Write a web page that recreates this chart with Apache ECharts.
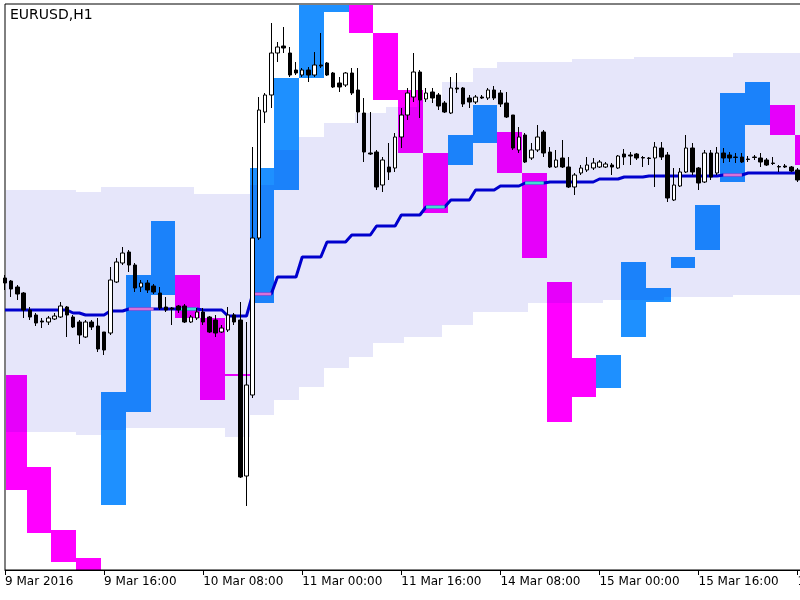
<!DOCTYPE html>
<html><head><meta charset="utf-8">
<script src="https://cdn.jsdelivr.net/npm/echarts@6/dist/echarts.min.js"></script>
<style>html,body{margin:0;padding:0;background:#fff}#c{width:800px;height:600px}</style>
</head><body><div id="c"></div>
<script>
const days = ['9 Mar', '10 Mar', '11 Mar', '14 Mar', '15 Mar', '16 Mar'];
const tickLabels = ['9 Mar 2016', '9 Mar 16:00', '10 Mar 08:00', '11 Mar 00:00', '11 Mar 16:00',
  '14 Mar 08:00', '15 Mar 00:00', '15 Mar 16:00', '16 Mar 08:00'];

const opens = [
  1.1022,1.1019,1.1013,1.1007,1.0990,1.0985,1.0979,1.0978,1.0981,1.0983,
  1.0993,1.0983,1.0978,1.0963,1.0978,1.0974,1.0968,1.0967,1.1018,1.1037,
  1.1048,1.1035,1.1013,1.1017,1.1014,1.1007,1.0993,1.0992,1.0994,1.0994,
  1.0978,1.0982,1.0988,1.0983,1.0980,1.0968,1.0970,1.0985,1.0980,1.0824,
  1.0905,1.1062,1.1188,1.1205,1.1247,1.1254,1.1247,1.1230,1.1225,1.1230,
  1.1225,1.1235,1.1237,1.1227,1.1217,1.1215,1.1227,1.1210,1.1187,1.1147,
  1.1148,1.1115,1.1133,1.1132,1.1163,1.1185,1.1203,1.1228,1.1201,1.1208,
  1.1205,1.1197,1.1187,1.1212,1.1212,1.1202,1.1198,1.1203,1.1202,1.1210,
  1.1207,1.1197,1.1185,1.1150,1.1165,1.1142,1.1150,1.1168,1.1148,1.1133,
  1.1142,1.1133,1.1113,1.1127,1.1130,1.1132,1.1133,1.1133,1.1135,1.1132,
  1.1146,1.1145,1.1146,1.11425,1.1142,1.1142,1.1152,1.1145,1.1100,1.1114,
  1.1128,1.1152,1.1132,1.1118,1.1147,1.1127,1.1147,1.1145,1.1143,1.1143,
  1.1141,1.1143,1.1142,1.1140,1.1137,1.11335,1.1134,1.1133,1.1130
];
const closes = [
  1.1017,1.1011,1.1006,1.0990,1.0983,1.0977,1.0978,1.0982,1.0984,1.0994,
  1.0985,1.0973,1.0965,1.0978,1.0973,1.0951,1.0950,1.1020,1.1038,1.1047,
  1.1035,1.1012,1.1017,1.1010,1.1008,1.0992,1.0990,1.0991,1.0990,1.0978,
  1.0983,1.0988,1.0978,1.0968,1.0967,1.0972,1.0985,1.0978,1.0823,1.0915,
  1.1062,1.1190,1.1205,1.1247,1.1253,1.1252,1.1225,1.1227,1.1230,1.1225,
  1.1235,1.1234,1.1225,1.1213,1.1213,1.1227,1.1207,1.1188,1.1148,1.1146,
  1.1113,1.1140,1.1128,1.1163,1.1185,1.1207,1.1228,1.1200,1.1207,1.1202,
  1.1194,1.1188,1.1212,1.1211,1.1196,1.1198,1.1203,1.1202,1.1210,1.1202,
  1.1196,1.1183,1.1152,1.1163,1.1138,1.1150,1.1163,1.1147,1.1133,1.1140,
  1.1133,1.1113,1.1125,1.1132,1.1135,1.1137,1.1138,1.1136,1.1133,1.1144,
  1.1143,1.1144,1.1142,1.1142,1.11415,1.1153,1.1143,1.1102,1.1115,1.1128,
  1.1152,1.1128,1.1117,1.1147,1.1123,1.1147,1.1142,1.1142,1.11425,1.1138,
  1.11405,1.11425,1.1138,1.1135,1.11365,1.1133,1.1133,1.1129,1.1120
];
const lows = [
  1.1010,1.1003,1.1000,1.0982,1.0980,1.0974,1.0972,1.0975,1.0980,1.0982,
  1.0963,1.0972,1.0956,1.0962,1.0970,1.0948,1.0945,1.0965,1.1017,1.1035,
  1.1028,1.1008,1.1008,1.1007,1.1006,1.0990,1.0988,1.0975,1.0987,1.0977,
  1.0977,1.0980,1.0975,1.0967,1.0963,1.0967,1.0968,1.0975,1.0822,1.0794,
  1.0902,1.1060,1.1177,1.1192,1.1238,1.1247,1.1223,1.1225,1.1223,1.1218,
  1.1223,1.1232,1.1224,1.1212,1.1208,1.1213,1.1205,1.1177,1.1138,1.1145,
  1.1110,1.1108,1.1120,1.1128,1.1152,1.1180,1.1198,1.1182,1.1198,1.1197,
  1.1190,1.1187,1.1186,1.1207,1.1193,1.1192,1.1196,1.1201,1.1200,1.1200,
  1.1193,1.1182,1.1150,1.1147,1.1137,1.1140,1.1148,1.1143,1.1132,1.1132,
  1.1132,1.1112,1.1105,1.1125,1.1128,1.1130,1.1132,1.1132,1.1125,1.1131,
  1.1135,1.1135,1.1140,1.1133,1.1135,1.1113,1.1140,1.1098,1.1099,1.1113,
  1.1127,1.1125,1.1110,1.1117,1.1120,1.1125,1.1137,1.1138,1.1137,1.1137,
  1.1138,1.1140,1.1133,1.1134,1.1135,1.1128,1.1132,1.1128,1.1118
];
const highs = [
  1.1025,1.1020,1.1015,1.1008,1.0993,1.0987,1.0982,1.0984,1.0987,1.0998,
  1.0994,1.0985,1.0980,1.0980,1.0980,1.0982,1.0968,1.1033,1.1042,1.1053,
  1.1050,1.1037,1.1020,1.1020,1.1016,1.1013,1.1003,1.0993,1.0995,1.0996,
  1.0985,1.0992,1.0992,1.0984,1.0985,1.0975,1.0993,1.0987,1.0998,1.0978,
  1.1153,1.1203,1.1207,1.1277,1.1258,1.1273,1.1253,1.1238,1.1232,1.1233,
  1.1248,1.1267,1.1238,1.1228,1.1223,1.1228,1.1232,1.1232,1.1202,1.1188,
  1.1150,1.1143,1.1157,1.1167,1.1192,1.1212,1.1247,1.1230,1.1212,1.1212,
  1.1207,1.1199,1.1223,1.1227,1.1213,1.1205,1.1205,1.1205,1.1212,1.1214,
  1.1210,1.1208,1.1185,1.1173,1.1167,1.1157,1.1175,1.1170,1.1153,1.1150,
  1.1160,1.1143,1.1127,1.1135,1.1143,1.1142,1.1140,1.1138,1.1137,1.1145,
  1.1151,1.1148,1.1147,1.1144,1.1143,1.1158,1.1158,1.1148,1.1132,1.1132,
  1.1165,1.1157,1.1133,1.1150,1.1150,1.1153,1.1152,1.1148,1.1147,1.1147,
  1.1144,1.1145,1.1147,1.1142,1.1143,1.1135,1.1136,1.1134,1.1132
];

const midline = [
  1.0990,1.0990,1.0990,1.0990,1.0990,1.0990,1.0990,1.0990,1.0990,1.0990,
  1.0990,1.0987,1.0987,1.0985,1.0985,1.0985,1.0985,1.0989,1.0989,1.0989,
  1.0991,1.0991,1.0991,1.0991,1.0991,1.0991,1.0991,1.0991,1.0991,1.0991,
  1.0991,1.0991,1.0990,1.0990,1.0990,1.0990,1.0984,1.0984,1.0984,1.0984,
  1.1006,1.1006,1.1006,1.1006,1.1023,1.1023,1.1023,1.1023,1.1043,1.1043,
  1.1043,1.1043,1.1058,1.1058,1.1058,1.1058,1.1065,1.1065,1.1065,1.1065,
  1.1074,1.1074,1.1074,1.1074,1.1085,1.1085,1.1085,1.1085,1.1093,1.1093,
  1.1093,1.1093,1.1100,1.1100,1.1100,1.1100,1.1110,1.1110,1.1110,1.1110,
  1.1114,1.1114,1.1114,1.1114,1.1117,1.1117,1.1117,1.1117,1.1118,1.1118,
  1.1118,1.1118,1.1118,1.1118,1.1118,1.1118,1.1121,1.1121,1.1121,1.1121,
  1.1123,1.1123,1.1123,1.1123,1.1124,1.1124,1.1124,1.1124,1.1124,1.1124,
  1.1124,1.1124,1.1124,1.1124,1.1124,1.1124,1.1125,1.1125,1.1125,1.1125,
  1.1127,1.1127,1.1127,1.1127,1.1127,1.1127,1.1127,1.1127,1.1127
];
// 0 = normal, 1 = pink highlight, 2 = cyan highlight
const midState = [
  0,0,0,0,0,0,0,0,0,0, 0,0,0,0,0,0,0,0,0,0,
  1,1,1,1,1,0,0,0,2,2, 2,2,0,0,0,0,0,0,0,0,
  1,1,1,1,0,0,0,0,0,0, 0,0,0,0,0,0,0,0,0,0,
  0,0,0,0,0,0,0,0,2,2, 2,2,0,0,0,0,0,0,0,0,
  0,0,0,0,2,2,2,2,0,0, 0,0,0,0,0,0,0,0,0,0,
  0,0,0,0,0,0,0,0,0,0, 0,0,0,0,0,0,1,1,1,1,
  0,0,0,0,0,0,0,0,0
];

const envUpper = [
  1.1110,1.1110,1.1110,1.1110,1.1110,1.1110,1.1110,1.1110,1.1110,1.1110,
  1.1110,1.1110,1.1108,1.1108,1.1108,1.1108,1.1113,1.1113,1.1113,1.1113,
  1.1113,1.1113,1.1113,1.1113,1.1113,1.1113,1.1113,1.1113,1.1113,1.1113,
  1.1113,1.1106,1.1106,1.1106,1.1106,1.1106,1.1106,1.1106,1.1106,1.1106,
  1.1115,1.1115,1.1115,1.1115,1.1150,1.1150,1.1150,1.1150,1.1163,1.1163,
  1.1163,1.1163,1.1177,1.1177,1.1177,1.1177,1.1177,1.1187,1.1187,1.1187,
  1.1187,1.1187,1.1193,1.1193,1.1193,1.1193,1.1193,1.1200,1.1200,1.1200,
  1.1200,1.1218,1.1218,1.1218,1.1218,1.1218,1.1232,1.1232,1.1232,1.1232,
  1.1238,1.1238,1.1238,1.1238,1.1238,1.1238,1.1238,1.1238,1.1238,1.1238,
  1.1238,1.1238,1.1241,1.1241,1.1241,1.1241,1.1241,1.1241,1.1241,1.1241,
  1.1241,1.1241,1.1243,1.1243,1.1243,1.1243,1.1243,1.1243,1.1243,1.1243,
  1.1243,1.1243,1.1243,1.1243,1.1243,1.1243,1.1243,1.1243,1.1247,1.1247,
  1.1247,1.1247,1.1247,1.1247,1.1247,1.1247,1.1247,1.1247,1.1247
];
const envLower = [
  1.0868,1.0868,1.0868,1.0868,1.0868,1.0868,1.0868,1.0868,1.0868,1.0868,
  1.0868,1.0868,1.0865,1.0865,1.0865,1.0865,1.0870,1.0870,1.0870,1.0870,
  1.0872,1.0872,1.0872,1.0872,1.0872,1.0872,1.0872,1.0872,1.0872,1.0872,
  1.0872,1.0872,1.0872,1.0872,1.0872,1.0872,1.0863,1.0863,1.0863,1.0863,
  1.0885,1.0885,1.0885,1.0885,1.0900,1.0900,1.0900,1.0900,1.0913,1.0913,
  1.0913,1.0913,1.0932,1.0932,1.0932,1.0932,1.0943,1.0943,1.0943,1.0943,
  1.0957,1.0957,1.0957,1.0957,1.0957,1.0963,1.0963,1.0963,1.0963,1.0963,
  1.0963,1.0975,1.0975,1.0975,1.0975,1.0975,1.0988,1.0988,1.0988,1.0988,
  1.0988,1.0988,1.0988,1.0988,1.0988,1.0997,1.0997,1.0997,1.0997,1.0997,
  1.0997,1.0997,1.0997,1.0997,1.0997,1.0997,1.0997,1.1000,1.1000,1.1000,
  1.1000,1.1000,1.1000,1.1000,1.1000,1.1000,1.1000,1.1003,1.1003,1.1003,
  1.1003,1.1003,1.1003,1.1003,1.1003,1.1003,1.1003,1.1003,1.1005,1.1005,
  1.1005,1.1005,1.1005,1.1005,1.1005,1.1005,1.1005,1.1005,1.1005
];

const trendHigh = [
  1.0925,1.0925,1.0925,1.0925, 1.0833,1.0833,1.0833,1.0833, 1.0770,1.0770,1.0770,1.0770, 1.0742,1.0742,1.0742,1.0742,
  1.0908,1.0908,1.0908,1.0908, 1.1025,1.1025,1.1025,1.1025, 1.1079,1.1079,1.1079,1.1079, 1.1025,1.1025,1.1025,1.1025,
  1.0982,1.0982,1.0982,1.0982, 1.0926,1.0926,1.0926,1.0926, 1.1132,1.1132,1.1132,1.1132, 1.1222,1.1222,1.1222,1.1222,
  1.1320,1.1320,1.1320,1.1320, 1.1320,1.1320,1.1320,1.1320, 1.1320,1.1320,1.1320,1.1320, 1.1267,1.1267,1.1267,1.1267,
  1.1210,1.1210,1.1210,1.1210, 1.1147,1.1147,1.1147,1.1147, 1.1165,1.1165,1.1165,1.1165, 1.1195,1.1195,1.1195,1.1195,
  1.1168,1.1168,1.1168,1.1168, 1.1127,1.1127,1.1127,1.1127, 1.1018,1.1018,1.1018,1.1018, 1.0942,1.0942,1.0942,1.0942,
  1.0945,1.0945,1.0945,1.0945, 1.1038,1.1038,1.1038,1.1038, 1.1012,1.1012,1.1012,1.1012, 1.1043,1.1043,1.1043,1.1043,
  1.1095,1.1095,1.1095,1.1095, 1.1207,1.1207,1.1207,1.1207, 1.1218,1.1218,1.1218,1.1218, 1.1195,1.1195,1.1195,1.1195,
  1.1165
];
const trendLow = [
  1.0810,1.0810,1.0810,1.0810, 1.0767,1.0767,1.0767,1.0767, 1.0738,1.0738,1.0738,1.0738, 1.0725,1.0725,1.0725,1.0725,
  1.0795,1.0795,1.0795,1.0795, 1.0888,1.0888,1.0888,1.0888, 1.1005,1.1005,1.1005,1.1005, 1.0982,1.0982,1.0982,1.0982,
  1.0900,1.0900,1.0900,1.0900, 1.0926,1.0926,1.0926,1.0926, 1.0997,1.0997,1.0997,1.0997, 1.1110,1.1110,1.1110,1.1110,
  1.1222,1.1222,1.1222,1.1222, 1.1288,1.1288,1.1288,1.1288, 1.1267,1.1267,1.1267,1.1267, 1.1200,1.1200,1.1200,1.1200,
  1.1147,1.1147,1.1147,1.1147, 1.1087,1.1087,1.1087,1.1087, 1.1135,1.1135,1.1135,1.1135, 1.1157,1.1157,1.1157,1.1157,
  1.1127,1.1127,1.1127,1.1127, 1.1042,1.1042,1.1042,1.1042, 1.0878,1.0878,1.0878,1.0878, 1.0903,1.0903,1.0903,1.0903,
  1.0912,1.0912,1.0912,1.0912, 1.0963,1.0963,1.0963,1.0963, 1.0998,1.0998,1.0998,1.0998, 1.1032,1.1032,1.1032,1.1032,
  1.1050,1.1050,1.1050,1.1050, 1.1118,1.1118,1.1118,1.1118, 1.1175,1.1175,1.1175,1.1175, 1.1165,1.1165,1.1165,1.1165,
  1.1135
];
// 1 = up (blue), -1 = down (magenta)
const trendDir = [
  -1,-1,-1,-1, -1,-1,-1,-1, -1,-1,-1,-1, -1,-1,-1,-1,
   1, 1, 1, 1,  1, 1, 1, 1,  1, 1, 1, 1, -1,-1,-1,-1,
  -1,-1,-1,-1, -1,-1,-1,-1,  1, 1, 1, 1,  1, 1, 1, 1,
   1, 1, 1, 1,  1, 1, 1, 1, -1,-1,-1,-1, -1,-1,-1,-1,
  -1,-1,-1,-1, -1,-1,-1,-1,  1, 1, 1, 1,  1, 1, 1, 1,
  -1,-1,-1,-1, -1,-1,-1,-1, -1,-1,-1,-1, -1,-1,-1,-1,
   1, 1, 1, 1,  1, 1, 1, 1,  1, 1, 1, 1,  1, 1, 1, 1,
   1, 1, 1, 1,  1, 1, 1, 1,  1, 1, 1, 1, -1,-1,-1,-1,
  -1
];

// hourly categories (weekend skipped), a couple beyond the last bar
const categories = [];
days.forEach(d => { for (let h = 0; h < 24; h++) categories.push(d + ' ' + String(h).padStart(2, '0') + ':00'); });
categories.length = 131;

const FONT = 'DejaVu Sans';
const chart = echarts.init(document.getElementById('c'), null, { renderer: 'canvas' });

function bandRect(params, api, lo, hi, minH) {
  const i = api.value(0);
  const a = api.coord([i, lo]);
  const b = api.coord([i, hi]);
  const w = api.size([1, 0])[0];
  const x0 = Math.round(a[0] - w / 2), x1 = Math.round(a[0] + w / 2);
  let y0 = Math.round(Math.min(a[1], b[1])), y1 = Math.round(Math.max(a[1], b[1]));
  if (y1 - y0 < minH) y1 = y0 + minH;
  const cs = params.coordSys;
  return echarts.graphic.clipRectByRect(
    { x: x0, y: y0, width: x1 - x0, height: y1 - y0 },
    { x: cs.x + 1, y: cs.y + 1, width: cs.width - 1, height: cs.height - 1 }
  );
}

const envData = envUpper.map((u, i) => [i, envLower[i], u]);
const trendData = trendHigh.map((h, i) => [i, trendLow[i], h, trendDir[i]]);
const candleData = opens.map((o, i) => [o, closes[i], lows[i], highs[i]]);
const pinkLine = midline.map((v, i) => midState[i] === 1 ? v : null);
const cyanLine = midline.map((v, i) => midState[i] === 2 ? v : null);

chart.setOption({
  animation: false,
  backgroundColor: '#ffffff',
  title: {
    text: 'EURUSD,H1', left: 10, top: 8, padding: 0,
    textStyle: { fontFamily: FONT, fontSize: 14, fontWeight: 'normal', color: '#000' }
  },
  grid: {
    left: 5, top: 4, bottom: 30, right: -10, containLabel: false, outerBoundsMode: 'none',
    show: true, borderColor: '#000', borderWidth: 1, backgroundColor: 'transparent'
  },
  xAxis: {
    type: 'category', data: categories, boundaryGap: false,
    axisLine: { show: true, lineStyle: { color: '#000', width: 1 } },
    axisTick: { show: true, interval: 15, length: 5, lineStyle: { color: '#000' } },
    axisLabel: {
      interval: 15, align: 'left', margin: 6, color: '#000', fontFamily: FONT, fontSize: 12,
      formatter: (v, idx) => tickLabels[idx / 16] !== undefined ? tickLabels[idx / 16] : v
    },
    splitLine: { show: false }
  },
  yAxis: { type: 'value', min: 1.0730, max: 1.1296, show: false, splitLine: { show: false } },
  series: [
    {
      type: 'custom', name: 'envelope', z: 1, data: envData,
      encode: { x: 0, y: [1, 2] },
      renderItem: (params, api) => {
        const r = bandRect(params, api, api.value(1), api.value(2), 0);
        return r && { type: 'rect', shape: r, style: { fill: '#E6E6FA' } };
      }
    },
    {
      type: 'custom', name: 'trend', z: 2, data: trendData, blendMode: 'multiply',
      encode: { x: 0, y: [1, 2] },
      renderItem: (params, api) => {
        const r = bandRect(params, api, api.value(1), api.value(2), 2);
        const col = api.value(3) > 0 ? '#1E90FF' : '#FF00FF';
        return r && { type: 'rect', shape: r, style: { fill: col } };
      }
    },
    {
      type: 'line', name: 'mid', z: 3, data: midline, symbol: 'none',
      lineStyle: { color: '#0000CD', width: 3 }
    },
    {
      type: 'line', name: 'midPink', z: 4, data: pinkLine, symbol: 'none', connectNulls: false,
      lineStyle: { color: '#DA70D6', width: 3 }
    },
    {
      type: 'line', name: 'midCyan', z: 4, data: cyanLine, symbol: 'none', connectNulls: false,
      lineStyle: { color: '#40E0D0', width: 3 }
    },
    {
      type: 'candlestick', name: 'EURUSD', z: 5, data: candleData, barWidth: 4,
      itemStyle: { color: '#ffffff', color0: '#000000', borderColor: '#000000', borderColor0: '#000000', borderWidth: 1 }
    }
  ]
});
</script></body></html>
